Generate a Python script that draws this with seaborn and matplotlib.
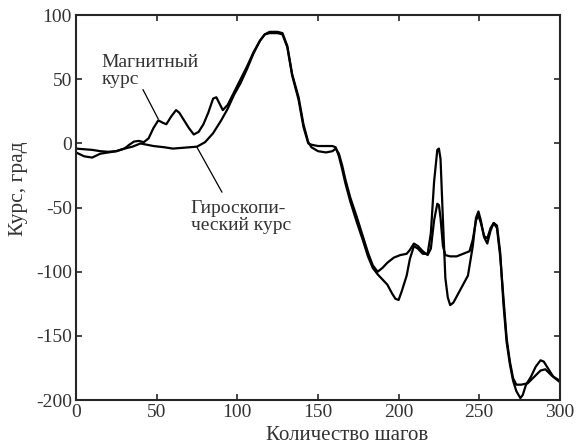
import numpy as np
import pandas as pd

import matplotlib
matplotlib.use("Agg")
import matplotlib.pyplot as plt
import seaborn as sns

# magnetic heading (noisier curve)
mag_steps = [0, 5, 10, 15, 20, 25, 30, 33, 36, 39, 42, 45, 48, 51, 54, 56, 59, 62, 64, 67,
             70, 73, 76, 79, 82, 85, 87, 89, 91, 94, 98, 102, 106, 110, 114, 117, 120, 125,
             128, 131, 134, 138, 141, 144, 146, 150, 155, 159, 161, 163, 165, 167, 170, 174,
             178, 181, 184, 187, 190, 193, 196, 198, 200, 202, 205, 207, 209.5, 212, 215,
             218, 220, 222, 224, 225, 226, 227.5, 229, 230.5, 232, 234, 237, 240, 243, 246,
             248, 249.5, 251, 253, 255, 257, 259, 261, 263, 265, 267, 269, 271, 273, 275.5,
             277, 279, 282, 285, 288, 290, 293, 296, 300]
mag_course = [-7, -10, -11, -8, -7, -6, -4, -1, 1.5, 2, 1, 4, 12, 18, 16, 15, 21, 26, 24, 18,
              12, 7, 9, 15, 24, 35, 36, 31, 26, 30, 40, 50, 60, 71, 80, 85, 86, 86,
              85, 75, 53, 34, 13, 0, -1, -2, -2, -2, -3, -10, -20, -31, -45, -61,
              -76, -88, -97, -102, -106, -110, -117, -121, -122, -115, -103, -90, -80, -82, -86,
              -86, -70, -30, -5, -4, -12, -60, -105, -120, -126, -124, -117, -110, -103, -80,
              -58, -53, -60, -73, -78, -68, -62, -64, -85, -125, -155, -172, -185, -193, -198.5,
              -196, -188, -182, -174, -169, -170, -176, -182, -186]

# gyroscopic heading (smoother curve)
gyro_steps = [0, 5, 10, 15, 20, 25, 30, 35, 40, 44, 48, 55, 60, 65, 70, 75, 80, 85, 90, 94,
              98, 102, 106, 110, 114, 117, 120, 125, 128, 131, 134, 138, 141, 144, 146, 150,
              155, 159, 161, 163, 165, 167, 170, 174, 178, 181, 184, 187, 190, 193, 197, 201,
              205, 207, 209.5, 212, 215, 218, 220, 222, 224, 225, 226, 227.5, 229, 232, 236,
              240, 244, 246, 248, 249.5, 251, 253, 255, 257, 259, 261, 263, 265, 267, 269, 271,
              273, 276, 280, 284, 288, 291, 295, 300]
gyro_course = [-4, -4.5, -5, -6, -6.5, -6, -4, -2.5, 0, -1, -2, -3, -4, -3.5, -3, -2.5, 1, 8, 18, 27,
               38, 47, 58, 70, 80, 85, 87, 87, 86, 76, 54, 36, 15, 1, -3, -6,
               -7, -6, -4, -8, -17, -28, -42, -57, -73, -85, -95, -100, -97, -93, -89, -87,
               -86, -83, -78, -80, -84, -87, -82, -60, -47, -48, -58, -80, -87, -88, -88,
               -86, -84, -75, -60, -56, -62, -72, -74, -66, -62, -66, -88, -120, -152, -170, -183,
               -188, -188, -187, -182, -177, -176, -181, -185]

x_ticks = [0, 50, 100, 150, 200, 250, 300]
y_ticks = [-200, -150, -100, -50, 0, 50, 100]

sns.set_style("ticks")
plt.rcParams["font.family"] = ["Liberation Serif", "DejaVu Serif"]
plt.rcParams["axes.unicode_minus"] = False
plt.rcParams["font.size"] = 14

fig = plt.figure(figsize=(5.76, 4.46), dpi=100)
ax = fig.add_axes([0.132, 0.103, 0.840, 0.863])

mag = pd.DataFrame({"step": mag_steps, "course": mag_course})
gyro = pd.DataFrame({"step": gyro_steps, "course": gyro_course})
sns.lineplot(data=mag, x="step", y="course", color="black", lw=1.6, ax=ax)
sns.lineplot(data=gyro, x="step", y="course", color="black", lw=1.6, ax=ax)

ax.set_xlim(0, 300)
ax.set_ylim(-200, 100)
ax.set_xticks(x_ticks)
ax.set_yticks(y_ticks)
ax.tick_params(direction="in", top=True, right=True, length=4, width=1.2,
               labelsize=14, labelcolor="#333333", pad=3)
for s in ax.spines.values():
    s.set_linewidth(1.5)

ax.set_xlabel("Количество шагов", fontsize=15, color="#333333", va="bottom")
ax.xaxis.set_label_coords(0.561, -0.1155)
ax.set_ylabel("Курс, град", fontsize=15.5, color="#333333")
ax.yaxis.set_label_coords(-0.099, 0.548)

# labels with leader lines
ax.text(16, 56.5, "Магнитный\nкурс", fontsize=14, color="#333333",
        ha="left", va="center", linespacing=1.0)
ax.plot([41.5, 51], [42, 19], color="black", lw=0.9)
ax.text(71, -57, "Гироскопи-\nческий курс", fontsize=14, color="#333333",
        ha="left", va="center", linespacing=1.0)
ax.plot([75, 90.5], [-3, -38], color="black", lw=0.9)

fig.savefig("out.png", dpi=100)
